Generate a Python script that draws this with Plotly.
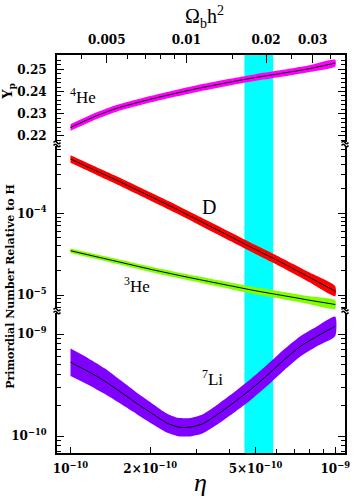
import math
import plotly.graph_objects as go

# ---------------- data ----------------
eta = [1.0e-10, 1.25e-10, 1.5e-10, 2.0e-10, 2.5e-10, 3.0e-10,
       4.0e-10, 5.0e-10, 6.0e-10, 7.0e-10, 8.0e-10, 1.0e-9]
he4_yp = [0.2238, 0.2290, 0.2325, 0.2365, 0.2392, 0.2413,
          0.2442, 0.2463, 0.2478, 0.2491, 0.2503, 0.2528]
he4_err = [0.0015, 0.0015, 0.0015, 0.0015, 0.0015, 0.0015,
           0.0015, 0.0015, 0.0015, 0.0015, 0.0015, 0.0015]
d_log = [-3.335, -3.480, -3.598, -3.792, -3.945, -4.075,
         -4.282, -4.443, -4.571, -4.685, -4.785, -4.953]
d_err_dex = [0.047, 0.048, 0.049, 0.050, 0.051, 0.052,
             0.054, 0.055, 0.056, 0.058, 0.059, 0.061]
he3_log = [-4.458, -4.531, -4.590, -4.684, -4.752, -4.805,
           -4.886, -4.948, -4.993, -5.031, -5.064, -5.116]
he3_err_dex = [0.027, 0.029, 0.031, 0.033, 0.035, 0.037,
               0.040, 0.042, 0.044, 0.046, 0.048, 0.051]

eta_li = [1.0e-10, 1.17e-10, 1.345e-10, 1.552e-10, 1.786e-10, 2.06e-10,
          2.30e-10, 2.55e-10, 2.80e-10, 3.15e-10, 3.63e-10, 4.18e-10,
          4.82e-10, 5.55e-10, 6.4e-10, 7.36e-10, 8.49e-10, 1.0e-9]
li_log = [-9.277, -9.369, -9.461, -9.572, -9.683, -9.790,
          -9.870, -9.912, -9.915, -9.882, -9.780, -9.664,
          -9.539, -9.402, -9.255, -9.124, -9.026, -8.925]
li_err_dex = [0.134, 0.130, 0.125, 0.115, 0.105, 0.100,
              0.094, 0.090, 0.090, 0.093, 0.097, 0.100,
              0.103, 0.104, 0.103, 0.100, 0.097, 0.095]

eta_band = [4.54e-10, 5.83e-10]          # cyan observational band
ETA_PER_OMEGA = 2.74e-8                  # eta = 2.74e-8 * Omega_b h^2

x_major = [1e-10, 2e-10, 5e-10, 1e-9]
x_major_text = ["10<sup>\u221210</sup>", "2\u00d710<sup>\u221210</sup>",
                "5\u00d710<sup>\u221210</sup>", "10<sup>\u22129</sup>"]
x_minor = [3e-10, 4e-10, 6e-10, 7e-10, 8e-10, 9e-10]
om_major = [0.005, 0.01, 0.02, 0.03]
om_major_text = ["0.005", "0.01", "0.02", "0.03"]
om_minor = [0.004, 0.006, 0.007, 0.008, 0.009, 0.015, 0.025, 0.035]
yp_major = [0.22, 0.23, 0.24, 0.25]
yp_major_text = ["0.22", "0.23", "0.24", "0.25"]
yp_minor = [0.218, 0.222, 0.224, 0.226, 0.228, 0.232, 0.234, 0.236, 0.238,
            0.242, 0.244, 0.246, 0.248, 0.252, 0.254, 0.256]
mid_major = [1e-4, 1e-5]
mid_major_text = ["10<sup>\u22124</sup>", "10<sup>\u22125</sup>"]
low_major = [1e-9, 1e-10]
low_major_text = ["10<sup>\u22129</sup>", "10<sup>\u221210</sup>"]

# ---------------- layout geometry ----------------
W, H = 358, 499
ML, MR, MT, MB = 57, 8, 55, 46
PW, PH = W - ML - MR, H - MT - MB


def px_x(px):
    return (px - ML) / PW


def px_y(py):
    return (H - MB - py) / PH


log_eta_range = [-10.051, -8.963]
log_om_range = [v - math.log10(ETA_PER_OMEGA) for v in log_eta_range]

fig = go.Figure()


def band(xs, lo, hi, color, yaxis):
    fig.add_trace(go.Scatter(x=list(xs) + list(xs)[::-1], y=list(hi) + list(lo)[::-1],
                             fill="toself", fillcolor=color, mode="lines",
                             line=dict(width=0, color=color, shape="spline", smoothing=0.6),
                             yaxis=yaxis, hoverinfo="skip", showlegend=False))


def center(xs, ys, yaxis):
    fig.add_trace(go.Scatter(x=xs, y=ys, mode="lines", yaxis=yaxis,
                             line=dict(color="black", width=1, shape="spline", smoothing=0.6),
                             showlegend=False))


# He4
band(eta, [v - e for v, e in zip(he4_yp, he4_err)], [v + e for v, e in zip(he4_yp, he4_err)],
     "#ff00ff", "y")
center(eta, he4_yp, "y")
# D
band(eta, [10 ** (v - e) for v, e in zip(d_log, d_err_dex)],
     [10 ** (v + e) for v, e in zip(d_log, d_err_dex)], "#ff0000", "y2")
center(eta, [10 ** v for v in d_log], "y2")
# He3
band(eta, [10 ** (v - e) for v, e in zip(he3_log, he3_err_dex)],
     [10 ** (v + e) for v, e in zip(he3_log, he3_err_dex)], "#80ff00", "y2")
center(eta, [10 ** v for v in he3_log], "y2")
# Li7
band(eta_li, [10 ** (v - e) for v, e in zip(li_log, li_err_dex)],
     [10 ** (v + e) for v, e in zip(li_log, li_err_dex)], "#8000ff", "y3")
center(eta_li, [10 ** v for v in li_log], "y3")

# invisible trace to activate the top (Omega_b h^2) axis
fig.add_trace(go.Scatter(x=[om_major[0]], y=[he4_yp[0]], xaxis="x2", yaxis="y",
                         mode="markers", marker=dict(opacity=0), hoverinfo="skip",
                         showlegend=False))

tickfont = dict(family="DejaVu Serif", size=12, color="black", weight="bold")
axis_common = dict(showline=True, linecolor="black", linewidth=2, ticks="inside",
                   tickcolor="black", tickwidth=1, showgrid=False, zeroline=False,
                   tickfont=tickfont)

top_dom = [px_y(142), 1.0]
mid_dom = [px_y(309), px_y(146)]
low_dom = [0.0, px_y(313)]

fig.update_layout(
    width=W, height=H, margin=dict(l=ML, r=MR, t=MT, b=MB),
    paper_bgcolor="white", plot_bgcolor="white", showlegend=False,
    xaxis=dict(type="log", range=log_eta_range, anchor="y3", side="bottom",
               tickmode="array", tickvals=x_major, ticktext=x_major_text, ticklen=6,
               minor=dict(tickvals=x_minor, ticklen=4, ticks="inside", tickcolor="black"),
               ticklabelstandoff=4, **axis_common),
    xaxis2=dict(type="log", range=log_om_range, overlaying="x", anchor="y", side="top",
                tickmode="array", tickvals=om_major, ticktext=om_major_text, ticklen=8,
                minor=dict(tickvals=om_minor, ticklen=4, ticks="inside", tickcolor="black"),
                ticklabelstandoff=4, **axis_common),
    yaxis=dict(domain=top_dom, range=[0.25 - (142 - 69.3) / 2220, 0.25 + (69.3 - 55) / 2220],
               tickmode="array", tickvals=yp_major, ticktext=yp_major_text,
               ticklen=7, mirror="ticks", anchor="x",
               minor=dict(tickvals=yp_minor, ticklen=4, ticks="inside", tickcolor="black"),
               ticklabelstandoff=6, **axis_common),
    yaxis2=dict(domain=mid_dom, type="log",
                range=[-4 - (309 - 213.3) / 81.7, -4 + (213.3 - 146) / 81.7],
                tickmode="array", tickvals=mid_major, ticktext=mid_major_text,
                ticklen=7, mirror="ticks", anchor="x",
                minor=dict(tickvals=[2e-6, 3e-6, 4e-6, 5e-6, 6e-6, 7e-6, 8e-6, 9e-6,
                                     2e-5, 3e-5, 4e-5, 5e-5, 6e-5, 7e-5, 8e-5, 9e-5,
                                     2e-4, 3e-4, 4e-4, 5e-4, 6e-4, 7e-4, 8e-4, 9e-4],
                           ticklen=4, ticks="inside", tickcolor="black"),
                ticklabelstandoff=6, **axis_common),
    yaxis3=dict(domain=low_dom, type="log",
                range=[-10 - (453 - 436) / 102, -9 + (334 - 313) / 102],
                tickmode="array", tickvals=low_major, ticktext=low_major_text,
                ticklen=7, mirror="ticks", anchor="x",
                minor=dict(tickvals=[2e-11, 3e-11, 4e-11, 5e-11, 6e-11, 7e-11, 8e-11, 9e-11,
                                     2e-10, 3e-10, 4e-10, 5e-10, 6e-10, 7e-10, 8e-10, 9e-10],
                           ticklen=4, ticks="inside", tickcolor="black"),
                ticklabelstandoff=6, **axis_common),
)

shapes = [dict(type="rect", xref="x", yref="paper", x0=eta_band[0], x1=eta_band[1],
               y0=0, y1=1, fillcolor="#00ffff", line=dict(width=0), layer="below")]


def tilde(xc, yc):
    dx, dy = 1 / PW, 1 / PH
    x0, x2 = xc - 3.5 * dx, xc + 3.5 * dx
    path = f"M{x0},{yc} Q{xc - 1.75 * dx},{yc + 2.5 * dy} {xc},{yc} T{x2},{yc}"
    return dict(type="path", xref="paper", yref="paper", path=path,
                line=dict(color="black", width=1.5))


for xc in (0.0, 1.0):
    for py in (142.5, 145.5, 309.5, 312.5):
        shapes.append(tilde(xc, px_y(py)))
fig.update_layout(shapes=shapes)

label_font = dict(family="Liberation Serif", size=17, color="black")
ann = [
    dict(x=px_x(83), y=px_y(96), text="<sup>4</sup>He", font=label_font),
    dict(x=px_x(212), y=px_y(207), text="D",
         font=dict(family="Liberation Serif", size=20, color="black")),
    dict(x=px_x(138), y=px_y(285), text="<sup>3</sup>He", font=label_font),
    dict(x=px_x(215), y=px_y(378), text="<sup>7</sup>Li", font=label_font),
    dict(x=px_x(207), y=px_y(17), text="\u03a9<sub>b</sub>h<sup>2</sup>",
         font=dict(family="Liberation Serif", size=20, color="black")),
    dict(x=px_x(203), y=px_y(482), text="<i>\u03b7</i>",
         font=dict(family="Liberation Serif", size=26, color="black")),
    dict(x=px_x(9), y=px_y(286), text="Primordial Number Relative to H", textangle=-90,
         font=dict(family="DejaVu Serif", size=11, color="black", weight="bold")),
    dict(x=px_x(8), y=px_y(91), text="Y<sub>p</sub>", textangle=-90,
         font=dict(family="DejaVu Serif", size=13, color="black", weight="bold")),
]
for a in ann:
    a.update(xref="paper", yref="paper", showarrow=False, xanchor="center", yanchor="middle")
fig.update_layout(annotations=ann)

fig.write_html("out.html")
